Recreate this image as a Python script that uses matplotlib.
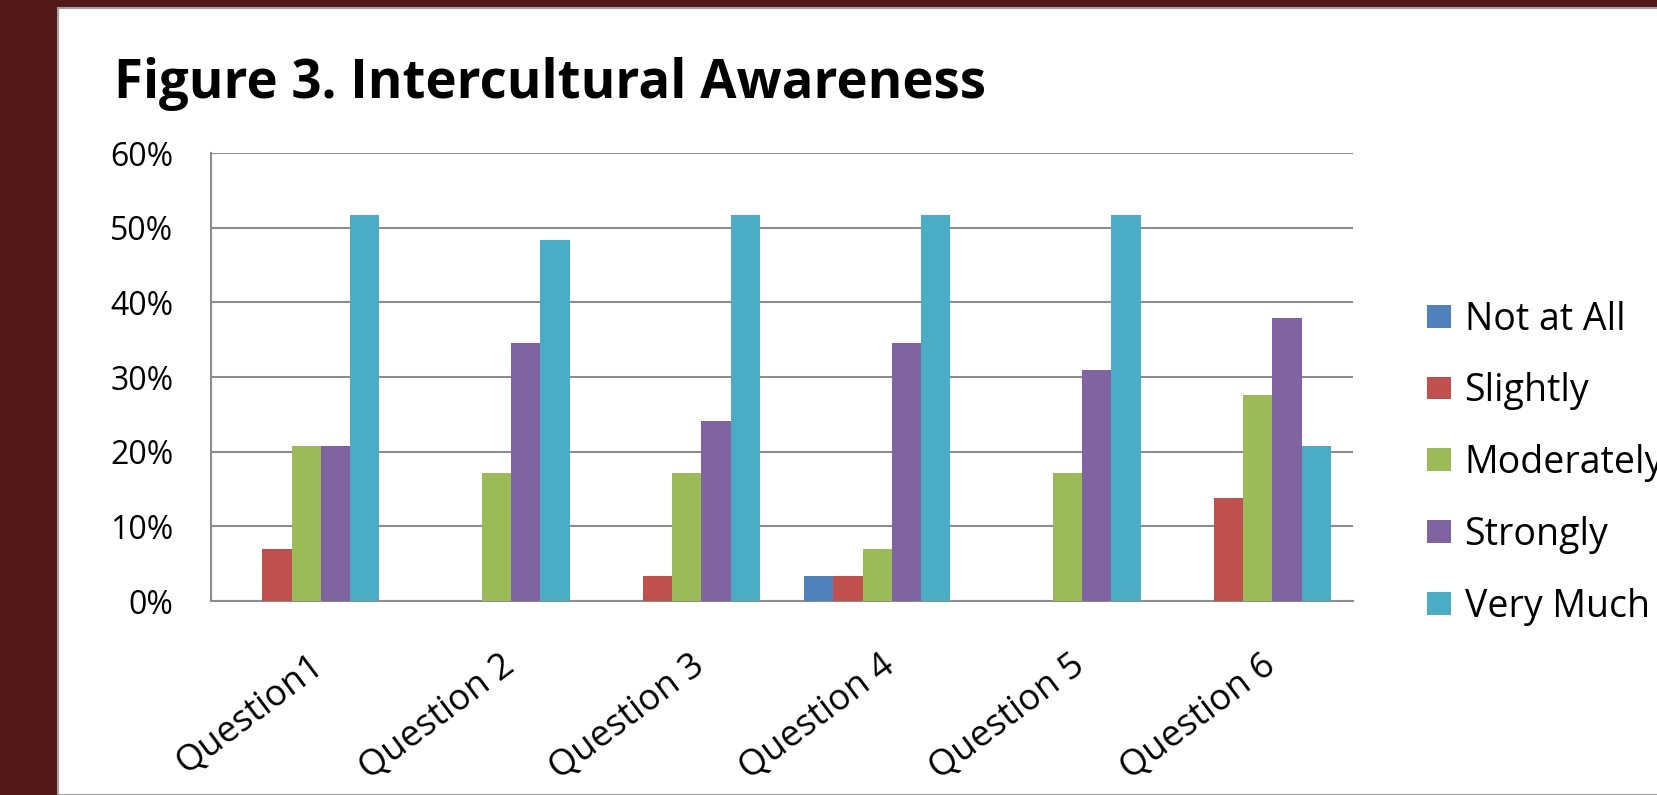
import matplotlib.pyplot as plt
import matplotlib.transforms as mtransforms
import numpy as np
from matplotlib.patches import Rectangle

plt.rcParams['font.family'] = ['Open Sans', 'DejaVu Sans']

# dados (percentagens, n=29)
questions = ['Question1', 'Question 2', 'Question 3', 'Question 4', 'Question 5', 'Question 6']
series = ['Not at All', 'Slightly', 'Moderately', 'Strongly', 'Very Much']
not_at_all = [0, 0, 0, 3.4, 0, 0]
slightly = [6.9, 0, 3.4, 3.4, 0, 13.8]
moderately = [20.7, 17.2, 17.2, 6.9, 17.2, 27.6]
strongly = [20.7, 34.5, 24.1, 34.5, 31.0, 37.9]
very_much = [51.7, 48.3, 51.7, 51.7, 51.7, 20.7]
colors = ['#4F81BD', '#C0504D', '#9BBB59', '#8064A2', '#4BACC6']

values = [not_at_all, slightly, moderately, strongly, very_much]

fig = plt.figure(figsize=(16.58, 7.95), dpi=100)
fig.patch.set_facecolor('#551818')

# painel branco
fig.patches.append(Rectangle((58 / 1658, 0), 1, 1 - 8 / 795, transform=fig.transFigure,
                             facecolor='white', edgecolor='#a0a0a0', linewidth=1.5, zorder=-5))

ax = fig.add_axes([211 / 1658, 194 / 795, 1142 / 1658, 448 / 795])
ax.set_zorder(2)
ax.set_facecolor('white')

x = np.arange(len(questions))
w = 1 / 6.5
for i, (name, vals) in enumerate(zip(series, values)):
    ax.bar(x + (i - 2) * w, vals, width=w, color=colors[i], label=name, zorder=3)

ax.set_xlim(-0.5, len(questions) - 0.5)
ax.set_ylim(0, 60)
ax.set_yticks(range(0, 61, 10))
ax.set_yticklabels([f'{v}%' for v in range(0, 61, 10)], fontsize=23)
ax.yaxis.grid(True, color='#8c8c8c', linewidth=1.5, zorder=0)
ax.tick_params(length=0)
ax.tick_params(axis='y', pad=27)
ax.set_xticks(x)
ax.set_xticklabels(questions, rotation=37, ha='right', va='center',
                   rotation_mode='anchor', fontsize=26)
ax.tick_params(axis='x', pad=44)
shift = mtransforms.ScaledTranslation(0.14, 0, fig.dpi_scale_trans)
for lbl in ax.get_xticklabels():
    lbl.set_transform(lbl.get_transform() + shift)

for s in ['top', 'right']:
    ax.spines[s].set_visible(False)
for s in ['left', 'bottom']:
    ax.spines[s].set_color('#8c8c8c')
    ax.spines[s].set_linewidth(1.5)

fig.text(114 / 1658, 1 - 84 / 795, 'Figure 3. Intercultural Awareness',
         fontsize=38, fontweight='bold', va='center', ha='left')

ax.legend(loc='center left', bbox_to_anchor=(1393 / 1658, 1 - 463 / 795),
          bbox_transform=fig.transFigure, frameon=False, fontsize=27,
          handlelength=0.66, handleheight=0.56, handletextpad=0.35, labelspacing=0.9)

fig.savefig('out.png', dpi=100, facecolor=fig.get_facecolor())
